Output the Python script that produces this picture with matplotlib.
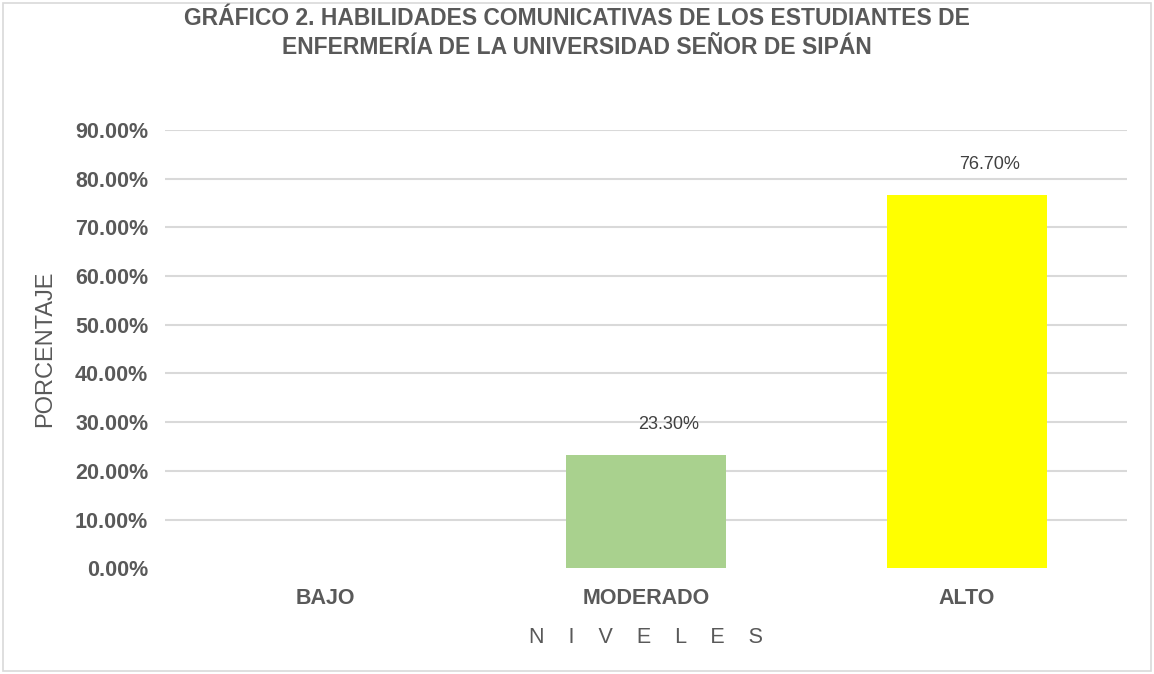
import matplotlib

matplotlib.use("Agg")
import matplotlib.pyplot as plt
from matplotlib.patches import Rectangle

# data
niveles = ["BAJO", "MODERADO", "ALTO"]
porcentajes = [0.0, 23.3, 76.7]
etiquetas = ["", "23.30%", "76.70%"]
colores = ["#5b9bd5", "#a9d18e", "#ffff00"]
yticks = [0, 10, 20, 30, 40, 50, 60, 70, 80, 90]

GRAY = "#595959"
plt.rcParams["font.family"] = ["Liberation Sans", "DejaVu Sans"]

fig = plt.figure(figsize=(11.54, 6.74), dpi=100)
ax = fig.add_axes([0.143, 0.157, 0.834, 0.650])

x = list(range(len(niveles)))
bars = ax.bar(x, porcentajes, width=0.5, color=colores, zorder=3)
for b, lab in zip(bars, etiquetas):
    if lab:
        ax.annotate(lab, (b.get_x() + b.get_width() / 2, b.get_height()),
                    xytext=(16, 22), textcoords="offset points",
                    ha="center", va="center", fontsize=13, color="#404040")

ax.set_xlim(-0.5, 2.5)
ax.set_ylim(0, 90)
ax.set_yticks(yticks)
ax.set_yticklabels([f"{v:.2f}%" for v in yticks], fontsize=15.5,
                   fontweight="bold", color=GRAY)
ax.set_xticks(x)
ax.set_xticklabels(niveles, fontsize=15.5, fontweight="bold", color=GRAY)
ax.tick_params(length=0, axis="y", pad=12)
ax.tick_params(length=0, axis="x", pad=14)

ax.grid(axis="y", color="#d9d9d9", lw=1.5, zorder=0)
ax.yaxis.get_gridlines()[0].set_visible(False)
for s in ax.spines.values():
    s.set_visible(False)

ax.set_ylabel("PORCENTAJE", fontsize=17, color=GRAY, labelpad=14)
ax.set_xlabel("N    I    V    E    L    E    S", fontsize=15.5, color=GRAY, labelpad=13)

fig.text(0.5, 0.99, "GRÁFICO 2. HABILIDADES COMUNICATIVAS DE LOS ESTUDIANTES DE\n"
         "ENFERMERÍA DE LA UNIVERSIDAD SEÑOR DE SIPÁN",
         ha="center", va="top", fontsize=16.5, fontweight="bold", color=GRAY,
         linespacing=1.32)

fig.patches.append(Rectangle((0.003, 0.004), 0.994, 0.992, transform=fig.transFigure,
                             fill=False, edgecolor="#d9d9d9", lw=1.2))

fig.savefig("out.png", dpi=100)
